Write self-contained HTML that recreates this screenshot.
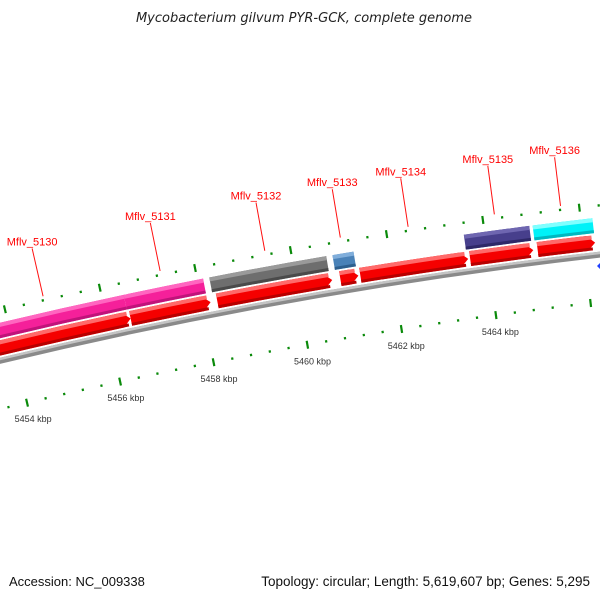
<!DOCTYPE html>
<html><head><meta charset="utf-8"><style>
html,body{margin:0;padding:0;background:#fff;}
svg{display:block;font-family:"Liberation Sans",sans-serif;}
</style></head><body>
<svg id="chart" width="600" height="600" viewBox="0 0 600 600" xmlns="http://www.w3.org/2000/svg">
<text x="304" y="22" text-anchor="middle" font-size="13" font-style="italic" fill="#222" style="font-family:'DejaVu Sans',sans-serif">Mycobacterium gilvum PYR-GCK, complete genome</text>
<g id="map"></g>
<path d="M597,266 L601,262 L605,266 L601,270 Z" fill="#2040ff"/>
<text x="9" y="586" font-size="13" fill="#111">Accession: NC_009338</text>
<text x="590" y="586" text-anchor="end" font-size="13.5" fill="#111">Topology: circular; Length: 5,619,607 bp; Genes: 5,295</text>
</svg>
<script>
// data (kbp)
const cdsStarts = [5453.0, 5456.49, 5458.32, 5460.91, 5461.33, 5463.63, 5465.04];
const cdsEnds   = [5456.49, 5458.18, 5460.74, 5461.29, 5463.59, 5464.95, 5466.24];
const geneNames  = ["Mflv_5130","Mflv_5131","Mflv_5132","Mflv_5133","Mflv_5134","Mflv_5135","Mflv_5136"];
const geneStarts = [5453.2, 5456.45, 5458.25, 5460.83, 5461.33, 5463.57, 5465.00];
const geneEnds   = [5456.45, 5458.12, 5460.70, 5461.27, 5463.59, 5464.93, 5466.24];
const geneKinds  = ["pink","pink","grey","blue","none","purple","cyan"];
const tickStart = 5452, tickEnd = 5468, tickStep = 0.4, majorStep = 2;
const kbpLabels = [5454, 5456, 5458, 5460, 5462, 5464];

const NS="http://www.w3.org/2000/svg";
const C={x:1170,y:5222};
function ang(k){return -10.03+(k-5460)*0.552;}
function pt(r,a){const t=a*Math.PI/180;return [C.x+r*Math.sin(t),C.y-r*Math.cos(t)];}
function f(p){return p[0].toFixed(2)+","+p[1].toFixed(2);}
const g=document.getElementById('map');
function mk(tag,attrs,parent){const e=document.createElementNS(NS,tag);for(const k in attrs)e.setAttribute(k,attrs[k]);(parent||g).appendChild(e);return e;}
function sector(a1,a2,r1,r2,arrow){
  const head=arrow?(8/r2)*180/Math.PI:0;
  const a2h=a2-head;
  let d="M"+f(pt(r2,a1))+" A"+r2+" "+r2+" 0 0 1 "+f(pt(r2,a2h));
  if(arrow){d+=" L"+f(pt((r1+r2)/2,a2))+" L"+f(pt(r1,a2h));}
  else d+=" L"+f(pt(r1,a2));
  d+=" A"+r1+" "+r1+" 0 0 0 "+f(pt(r1,a1))+" Z";
  return d;
}
function band(k1,k2,r1,r2,arrow,main,light,dark,name){
  const grp=mk('g',{});
  
  
  const a1=ang(k1),a2=ang(k2);
  const p=mk('path',{d:sector(a1,a2,r1,r2,arrow),fill:main},grp);
  
  
  const hl=mk('path',{d:sector(a1,a2-(arrow?(3/r2)*180/Math.PI:0),r2-4,r2,false),fill:light},grp);
  
  
  const sh=mk('path',{d:sector(a1,a2-(arrow?(3/r2)*180/Math.PI:0),r1,r1+3,false),fill:dark},grp);
  
  
}
// backbone
const bb1=mk('path',{d:sector(-15,-5.5,4997,5003,false),fill:'#8a8a8a'});


const bb2=mk('path',{d:sector(-15,-5.5,5000.5,5003,false),fill:'#c4c4c4'});


// ticks
for(let k=tickStart;k<=tickEnd+1e-6;k+=tickStep){
  const kk=Math.round(k*10)/10;
  const major=Math.abs(((kk-5454)/majorStep)-Math.round((kk-5454)/majorStep))<1e-6;
  const a=ang(kk);
  [[4953,'inner'],[5049,'outer']].forEach(([r,side])=>{
    const len=major?8:2.4;
    const l=mk('line',{x1:pt(r-len/2,a)[0],y1:pt(r-len/2,a)[1],x2:pt(r+len/2,a)[0],y2:pt(r+len/2,a)[1],stroke:'#0a8a0a','stroke-width':2.2});
    
    
  });
}
kbpLabels.forEach(k=>{
  const p=pt(4935,ang(k));
  const t=mk('text',{x:p[0]+2,y:p[1]+2,'text-anchor':'middle','font-size':9,fill:'#333'});
  t.textContent=k+" kbp";
  
  
});
// CDS row
cdsStarts.forEach((s,i)=>{
  band(s,cdsEnds[i],5005,5020,true,'#f50000','#ff6a6a','#b80000','cds-arrow-'+(i+1));
});
// gene row
const colors={pink:['#f5209a','#ff66c0','#c0137a'],grey:['#6e6e6e','#9a9a9a','#4a4a4a'],blue:['#4a82b8','#80aedb','#2e5f8e'],purple:['#473f8c','#6e66b0','#2e2868'],cyan:['#00f2f8','#80ffff','#00b8c0']};
geneStarts.forEach((s,i)=>{
  const c=colors[geneKinds[i]];
  if(c) band(s,geneEnds[i],5022,5037,false,c[0],c[1],c[2],'gene-'+geneNames[i]);
});
// labels
geneNames.forEach((n,i)=>{
  const a=ang((geneStarts[i]+geneEnds[i])/2);
  const p1=pt(5053,a),p2=pt(5102,a);
  const l=mk('line',{x1:p1[0],y1:p1[1],x2:p2[0],y2:p2[1],stroke:'#ff1010','stroke-width':1});
  
  
  const t=mk('text',{x:p2[0],y:p2[1]-3,'text-anchor':'middle','font-size':11,fill:'#ff0000'});
  t.textContent=n;
  
  
});
</script>
</body></html>
